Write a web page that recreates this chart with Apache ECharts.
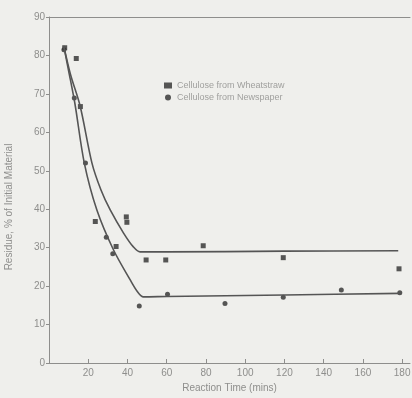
<!DOCTYPE html>
<html>
<head>
<meta charset="utf-8">
<script src="https://cdn.jsdelivr.net/npm/echarts@6/dist/echarts.min.js"></script>
<style>
html,body{margin:0;padding:0;background:#efefec;}
#chart{width:412px;height:398px;}
</style>
</head>
<body>
<div id="chart"></div>
<script>
// 数据点
var wheatPoints = [[8,82],[13.9,79.2],[16,66.7],[23.6,36.8],[34.2,30.3],[39.4,38],[39.7,36.6],[49.5,26.8],[59.5,26.8],[78.6,30.5],[119.4,27.4],[178.4,24.5]];
var paperPoints = [[7.6,81.5],[12.9,68.9],[18.6,52],[29.2,32.7],[32.5,28.4],[46,14.8],[60.4,17.9],[89.7,15.5],[119.4,17.1],[149,19],[178.8,18.3]];
// 拟合曲线（手动描点）
var wheatCurve = [[7.5,82.5],[11,75],[15.9,66.8],[21.9,52],[26.5,45],[31.2,39.8],[38,33.8],[43,30.2],[46.4,28.9],[60,28.9],[120,29.1],[178,29.2]];
var paperCurve = [[7.5,82.5],[10,76],[13.2,67.5],[18,52],[24.4,39.8],[32.9,29.4],[41.4,21.6],[45,18.6],[48.1,17.2],[60,17.3],[120,17.7],[179,18.1]];
var xTicks = [20,40,60,80,100,120,140,160,180];
var seriesNames = ['Cellulose from Wheatstraw','Cellulose from Newspaper'];

var chart = echarts.init(document.getElementById('chart'));
var grey = '#8e8e8c';
var option = {
    backgroundColor: '#efefec',
    animation: false,
    textStyle: {fontFamily: 'Liberation Sans'},
    grid: {left: 49, right: 2, top: 17, bottom: 35, containLabel: false, outerBoundsMode: 'none'},
    legend: {
        left: 159, top: 76,
        orient: 'vertical',
        itemGap: 3,
        itemWidth: 8, itemHeight: 6,
        textStyle: {color: '#a0a09e', fontSize: 9},
        data: [
            {name: seriesNames[0], icon: 'rect'},
            {name: seriesNames[1], icon: 'circle'}
        ]
    },
    xAxis: [{
        type: 'value',
        min: 0, max: 184, interval: 20,
        name: 'Reaction Time (mins)',
        nameLocation: 'middle', nameGap: 16,
        nameTextStyle: {color: grey, fontSize: 10},
        axisLine: {lineStyle: {color: grey, width: 1}},
        axisTick: {inside: true, length: 4, lineStyle: {color: grey}},
        axisLabel: {
            color: grey, fontSize: 10, margin: 5, showMaxLabel: false,
            formatter: function (v) { return xTicks.indexOf(v) >= 0 ? v : ''; }
        },
        splitLine: {show: false}
    }, {
        type: 'value', position: 'top',
        min: 0, max: 184,
        axisLine: {show: true, onZero: false, lineStyle: {color: grey, width: 1}},
        axisTick: {show: false}, axisLabel: {show: false}, splitLine: {show: false}
    }],
    yAxis: {
        type: 'value',
        min: 0, max: 90, interval: 10,
        name: 'Residue, % of Initial Material',
        nameLocation: 'middle', nameGap: 35,
        nameTextStyle: {color: grey, fontSize: 10, padding: [0, 34, 0, 0]},
        axisLine: {show: true, lineStyle: {color: grey, width: 1}},
        axisTick: {show: true, length: 3, lineStyle: {color: grey}},
        axisLabel: {color: grey, fontSize: 10, margin: 4},
        splitLine: {show: false}
    },
    series: [
        {
            name: 'wheatCurve', type: 'line', data: wheatCurve,
            smooth: 0.3, showSymbol: false, silent: true,
            lineStyle: {color: '#555', width: 1.6}
        },
        {
            name: 'paperCurve', type: 'line', data: paperCurve,
            smooth: 0.3, showSymbol: false, silent: true,
            lineStyle: {color: '#555', width: 1.6}
        },
        {
            name: seriesNames[0], type: 'scatter', data: wheatPoints,
            symbol: 'rect', symbolSize: 5,
            itemStyle: {color: '#2e2e2e'}
        },
        {
            name: seriesNames[1], type: 'scatter', data: paperPoints,
            symbol: 'circle', symbolSize: 5,
            itemStyle: {color: '#2e2e2e'}
        }
    ]
};
chart.setOption(option);
</script>
</body>
</html>
